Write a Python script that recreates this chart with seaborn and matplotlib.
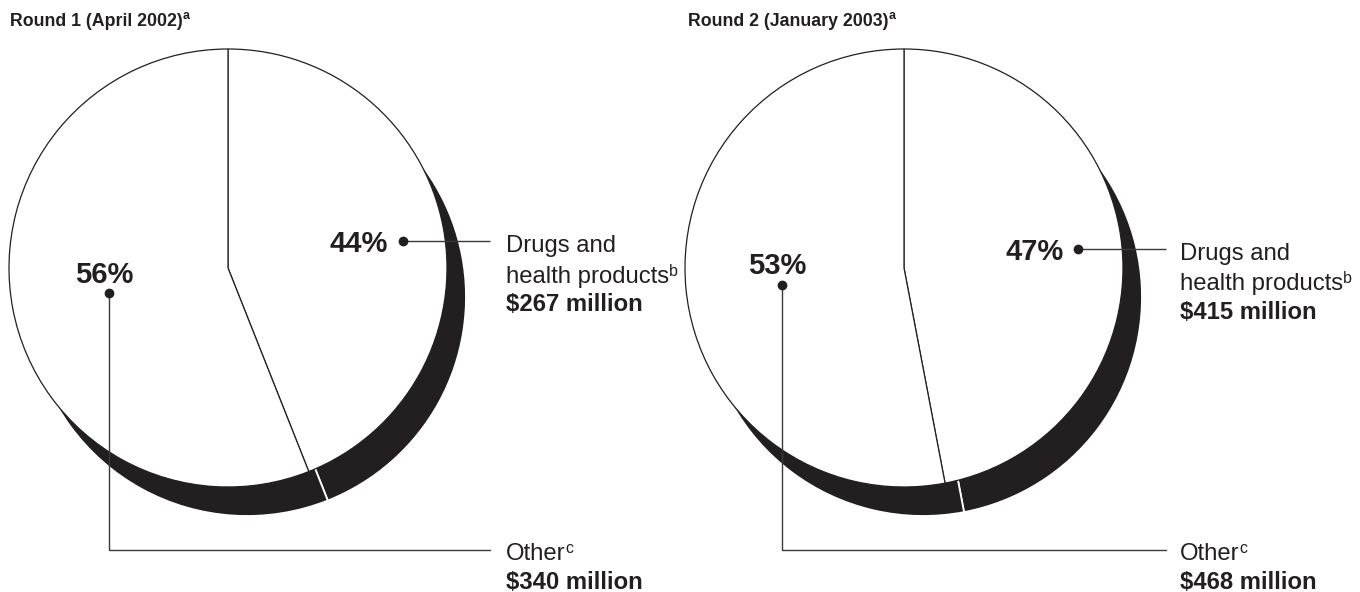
import matplotlib
matplotlib.use("Agg")
import matplotlib.pyplot as plt
import seaborn as sns

# ---- data ----
titles = ["Round 1 (April 2002)", "Round 2 (January 2003)"]
title_note = "a"
drugs_lines = ["Drugs and", "health products"]
other_lines = ["Other"]
drugs_note = "b"
other_note = "c"
drugs_millions = [267, 415]
other_millions = [340, 468]

# ---- style ----
sns.set_theme(style="white")
plt.rcParams['font.family'] = ['Liberation Sans', 'DejaVu Sans']
INK = '#231f20'
LINE = '#3a3a3a'

W, H = 1360, 592
fig = plt.figure(figsize=(W / 100, H / 100), dpi=100)
ax = fig.add_axes([0, 0, 1, 1])


def Y(p):
    return H - p


R = 219
SHADOW_DX, SHADOW_DY = 19, 29

layouts = [
    dict(cx=228, cy=268, title_x=10,
         dpct_right=388, dpct_base=252, ddot=(403, 241), dline_end=490,
         opct_cx=104, opct_base=283, odot=(109, 293), oline_y=550,
         text_x=506, dbases=[252, 283, 311], obases=[560, 589]),
    dict(cx=904, cy=268, title_x=688,
         dpct_right=1064, dpct_base=260, ddot=(1078, 249), dline_end=1166,
         opct_cx=777, opct_base=274, odot=(782, 285), oline_y=550,
         text_x=1180, dbases=[260, 290, 319], obases=[560, 589]),
]

sup_requests = []

for i, lay in enumerate(layouts):
    vals = [drugs_millions[i], other_millions[i]]
    total = sum(vals)
    pcts = [round(100 * v / total) for v in vals]
    cx, cy = lay['cx'], lay['cy']

    # shadow
    ax.pie(vals, startangle=90, counterclock=False,
           center=(cx + SHADOW_DX, Y(cy + SHADOW_DY)), radius=R,
           colors=[INK, INK],
           wedgeprops=dict(edgecolor='white', linewidth=1.3))
    # main pie
    ax.pie(vals, startangle=90, counterclock=False,
           center=(cx, Y(cy)), radius=R,
           colors=['white', 'white'],
           wedgeprops=dict(edgecolor=INK, linewidth=0.9))

    # title
    t = ax.text(lay['title_x'], Y(26), titles[i], fontsize=12.8,
                fontweight='bold', color=INK, ha='left', va='baseline')
    sup_requests.append((t, title_note, 9, 'bold', 7, 0))

    # drugs percentage + leader
    ax.text(lay['dpct_right'], Y(lay['dpct_base']), f"{pcts[0]}%",
            fontsize=21, fontweight='bold', color=INK, ha='right', va='baseline')
    dx, dy = lay['ddot']
    ax.plot([dx, lay['dline_end']], [Y(dy), Y(dy)], color=LINE, lw=1.0,
            solid_capstyle='butt', zorder=5)
    ax.plot([dx], [Y(dy)], 'o', color=INK, ms=6, zorder=6)

    # other percentage + leader
    ax.text(lay['opct_cx'], Y(lay['opct_base']), f"{pcts[1]}%",
            fontsize=21, fontweight='bold', color=INK, ha='center', va='baseline')
    ox, oy = lay['odot']
    ax.plot([ox, ox, lay['dline_end']], [Y(oy), Y(lay['oline_y']), Y(lay['oline_y'])],
            color=LINE, lw=1.0, solid_joinstyle='miter', zorder=5)
    ax.plot([ox], [Y(oy)], 'o', color=INK, ms=6, zorder=6)

    # category labels
    tx = lay['text_x']
    b = lay['dbases']
    ax.text(tx, Y(b[0]), drugs_lines[0], fontsize=17.2, color=INK,
            ha='left', va='baseline')
    t2 = ax.text(tx, Y(b[1]), drugs_lines[1], fontsize=17.2, color=INK,
                 ha='left', va='baseline')
    sup_requests.append((t2, drugs_note, 11.5, 'normal', 7, 0))
    ax.text(tx, Y(b[2]), f"${drugs_millions[i]} million", fontsize=17.2,
            fontweight='bold', color=INK, ha='left', va='baseline')

    ob = lay['obases']
    t3 = ax.text(tx, Y(ob[0]), other_lines[0], fontsize=17.2, color=INK,
                 ha='left', va='baseline')
    sup_requests.append((t3, other_note, 11.5, 'normal', 7, 0))
    ax.text(tx, Y(ob[1]), f"${other_millions[i]} million", fontsize=17.2,
            fontweight='bold', color=INK, ha='left', va='baseline')

ax.set_xlim(0, W)
ax.set_ylim(0, H)
ax.set_aspect('auto')
ax.axis('off')

# superscripts: placed after limits are final so pixels == data units
fig.canvas.draw()
renderer = fig.canvas.get_renderer()
for txt_artist, note, size, weight, raise_px, nudge in sup_requests:
    bb = txt_artist.get_window_extent(renderer=renderer)
    x, y = txt_artist.get_position()
    ax.text(bb.x1 + nudge, y + raise_px, note, fontsize=size, fontweight=weight,
            color=INK, ha='left', va='baseline')

fig.savefig("out.png", dpi=100, facecolor='white')
